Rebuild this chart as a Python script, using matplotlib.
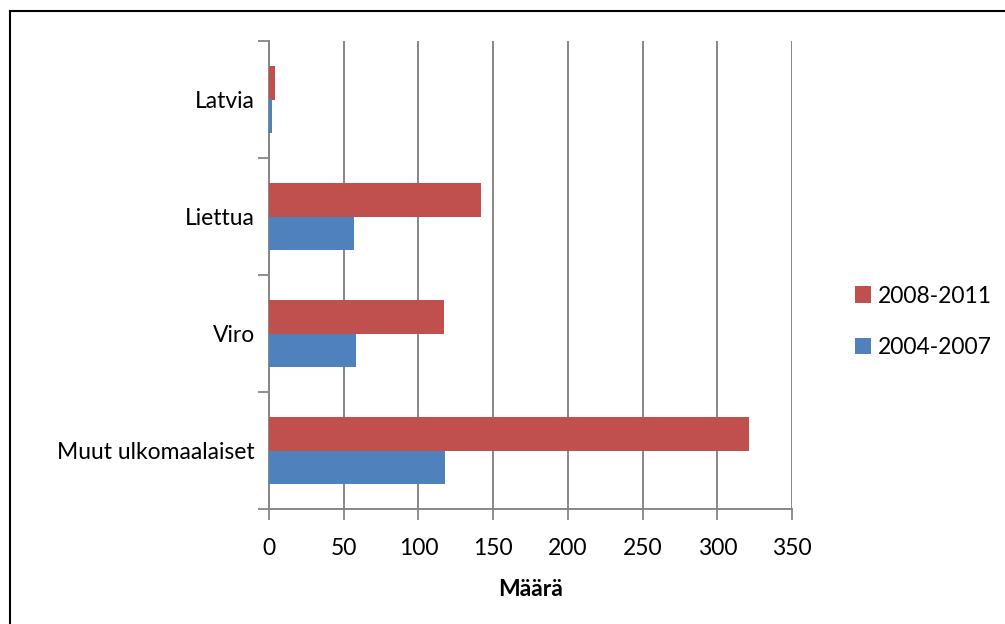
import numpy as np
import matplotlib
matplotlib.use("Agg")
import matplotlib.pyplot as plt
from matplotlib.lines import Line2D

# data
categories = ["Muut ulkomaalaiset", "Viro", "Liettua", "Latvia"]
vals_2004_2007 = [118, 58, 57, 2]
vals_2008_2011 = [321, 117, 142, 4]
xticks = [0, 50, 100, 150, 200, 250, 300, 350]

plt.rcParams["font.family"] = ["Lato", "DejaVu Sans"]
FS = 16.5

fig = plt.figure(figsize=(10.05, 6.24), dpi=100)
ax = fig.add_axes([269 / 1005, 1 - 509 / 624, 523 / 1005, 468 / 624])

y = np.arange(len(categories))
h = 0.286
ax.barh(y + h / 2, vals_2008_2011, height=h, color="#C0504D", label="2008-2011", zorder=3)
ax.barh(y - h / 2, vals_2004_2007, height=h, color="#4F81BD", label="2004-2007", zorder=3)

ax.set_xlim(0, 350)
ax.set_ylim(-0.5, len(categories) - 0.5)
ax.set_xticks(xticks)
ax.set_xticklabels([str(t) for t in xticks], fontsize=FS)
ax.set_yticks(y)
ax.set_yticklabels(categories, fontsize=FS)
ax.tick_params(axis="y", length=0, pad=10)
ax.tick_params(axis="x", length=8, width=1.3, color="#868686", pad=13, direction="out")
ax.set_yticks(np.arange(len(categories) + 1) - 0.5, minor=True)
ax.tick_params(axis="y", which="minor", length=8, width=1.3, color="#868686")

ax.grid(axis="x", color="#868686", linewidth=1.4, zorder=0)
for s in ["top", "right"]:
    ax.spines[s].set_visible(False)
for s in ["left", "bottom"]:
    ax.spines[s].set_color("#868686")
    ax.spines[s].set_linewidth(1.4)

ax.set_xlabel("Määrä", fontsize=FS, fontweight="bold", labelpad=14)

handles, labels = ax.get_legend_handles_labels()
ax.legend(handles, labels, loc="center left", bbox_to_anchor=(834 / 1005, 1 - 322 / 624),
          bbox_transform=fig.transFigure, frameon=False, fontsize=FS,
          handlelength=0.7, handleheight=0.7, handletextpad=0.3, labelspacing=1.35)

# outer chart frame (top and left edges visible)
fig.add_artist(Line2D([10 / 1005, 1.0], [1 - 11 / 624, 1 - 11 / 624], color="black", linewidth=1.5))
fig.add_artist(Line2D([10 / 1005, 10 / 1005], [1 - 11 / 624, 0.0], color="black", linewidth=1.5))

fig.savefig("out.png", dpi=100)
